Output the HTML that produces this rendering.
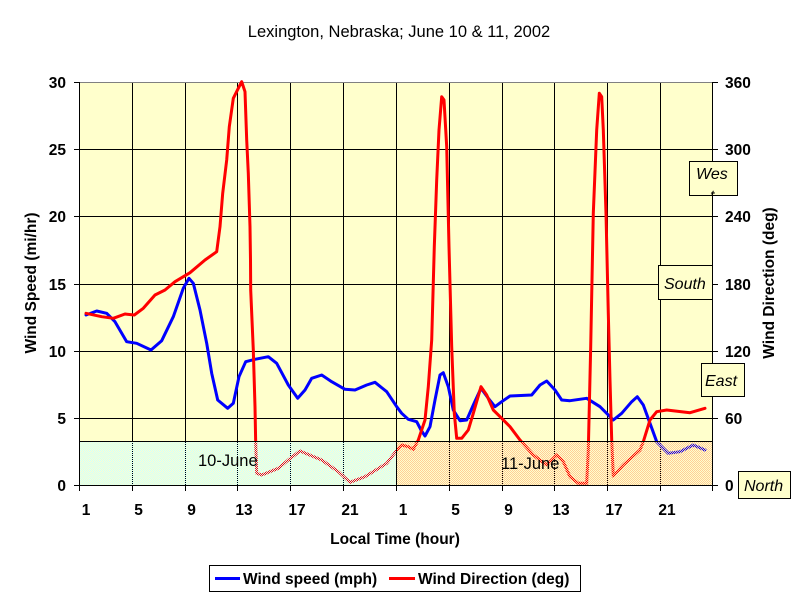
<!DOCTYPE html>
<html>
<head>
<meta charset="utf-8">
<style>
html,body{margin:0;padding:0;background:#fff;}
svg{display:block;}
text{font-family:"Liberation Sans",Arial,sans-serif;}
</style>
</head>
<body>
<svg width="800" height="600" viewBox="0 0 800 600" xmlns="http://www.w3.org/2000/svg">
<defs>
  <pattern id="cy" width="2" height="2" patternUnits="userSpaceOnUse">
    <rect x="0" y="0" width="1" height="1" fill="#ccffff"/>
    <rect x="1" y="1" width="1" height="1" fill="#ccffff"/>
  </pattern>
  <pattern id="or" width="2" height="2" patternUnits="userSpaceOnUse">
    <rect x="0" y="0" width="1" height="1" fill="#ffcc99"/>
    <rect x="1" y="1" width="1" height="1" fill="#ffcc99"/>
  </pattern>
  <clipPath id="plot"><rect x="79" y="80" width="634" height="406"/></clipPath>
  <clipPath id="wes"><rect x="690" y="162" width="48" height="34"/></clipPath>
</defs>

<!-- title -->
<text x="399" y="37" font-size="16.5" text-anchor="middle">Lexington, Nebraska; June 10 &amp; 11, 2002</text>

<!-- plot background -->
<rect x="79" y="82" width="634" height="403" fill="#ffffcc"/>

<!-- gridlines -->
<g stroke="#000" stroke-width="1" shape-rendering="crispEdges">
  <line x1="79" y1="149.5" x2="713" y2="149.5"/>
  <line x1="79" y1="216.5" x2="713" y2="216.5"/>
  <line x1="79" y1="284.5" x2="713" y2="284.5"/>
  <line x1="79" y1="351.5" x2="713" y2="351.5"/>
  <line x1="79" y1="418.5" x2="713" y2="418.5"/>
  <line x1="132.5" y1="82" x2="132.5" y2="485"/>
  <line x1="185.5" y1="82" x2="185.5" y2="485"/>
  <line x1="237.5" y1="82" x2="237.5" y2="485"/>
  <line x1="290.5" y1="82" x2="290.5" y2="485"/>
  <line x1="343.5" y1="82" x2="343.5" y2="485"/>
  <line x1="396.5" y1="82" x2="396.5" y2="485"/>
  <line x1="449.5" y1="82" x2="449.5" y2="485"/>
  <line x1="502.5" y1="82" x2="502.5" y2="485"/>
  <line x1="554.5" y1="82" x2="554.5" y2="485"/>
  <line x1="607.5" y1="82" x2="607.5" y2="485"/>
  <line x1="660.5" y1="82" x2="660.5" y2="485"/>
</g>
<line x1="79" y1="82.5" x2="713" y2="82.5" stroke="#808080" stroke-width="1" shape-rendering="crispEdges"/>

<!-- series -->
<g clip-path="url(#plot)" fill="none" stroke-width="3" stroke-linejoin="round" stroke-linecap="round">
  <polyline stroke="#0000ff" points="86,315 96.7,311 106.7,313.3 115,321.7 126.7,341.7 136.7,343.3 151,350 161.7,340.7 173.3,316.7 183.3,288.3 189,278.3 193.3,283.3 200,310 206.7,343.3 211.7,373.3 217.7,400 227.7,408.3 233.3,403.3 239,376.7 245.7,361.7 255,359.3 268.3,356.7 276.7,363.3 288.3,385 297.7,398.3 305,390 311.7,378.3 321.7,375 331.7,381.7 345,389.3 355,390 366.7,385 375,382.3 386.7,391.7 396.7,406.7 401.7,413.3 408.3,419.3 416.7,421.7 421,430 425,436 430,426.7 435,400 440,375 443.3,372.7 448.3,386.7 453.3,410 460,420.7 466.7,420 473.3,405 481,388.3 488.3,398.3 495,406.7 501.7,401.7 510,396 531.7,395 540,385 546.7,381 555,390 561.7,400 570,400.7 586.7,398.3 600,406.7 613.3,420 621.7,413.3 631.7,401.7 637.3,396.7 643.3,405 650,423.3 656.7,441.7 668.3,453.3 680,451.7 693.3,445 705,450"/>
  <polyline stroke="#ff0000" points="86,313.3 101.7,316.7 113.3,318.3 125,314 134.3,315 143.3,308.3 155,295 165,290 175,281.7 190,272.7 205,260 216.7,251.7 220,226.7 222.7,193.3 226.7,160 229.3,126.7 233.3,98.3 238.3,88.3 241.7,81.7 245,91.7 246.7,140 248.3,173.3 250,226.7 250.5,260 250.7,290 253.3,350 255,406.7 255.7,443.3 256.7,473.3 261.7,475 278.3,468.3 288.3,460 300,451 321.7,460 338.3,471.7 350,482.3 365,476.7 386.7,463.3 398.3,448.3 401.7,445 408.3,446.7 413.3,449.3 418.3,440 425,420 428.3,386.7 431.7,340 434.3,246.7 436.7,180 439,130 441.7,96.7 444,100 446.7,146.7 449,246.7 451.7,346.7 454.3,413.3 456.7,438.3 461.7,438.3 468.3,430 473.3,413.3 481,386.7 486.7,395 493.3,410 501.7,418.3 510,426.7 520,440 533.3,455 546.7,465 556.7,455 563.3,461.7 570,476.7 578.3,483.3 586.7,483.3 588.3,450 590.7,346.7 593.3,213.3 596.7,130 599.3,93.3 601.7,96.7 603.3,130 606,213.3 608.3,313.3 610,380 611.7,440 613.3,476 623.3,465 640,450 643.3,441.7 650,420 656.7,411.7 666.7,410 690,412.7 705,408.3"/>
</g>

<!-- day boxes -->
<rect x="79" y="441" width="318" height="44" fill="url(#cy)"/>
<rect x="397" y="441" width="316" height="44" fill="url(#or)"/>
<g fill="none" stroke="#000" stroke-width="1" shape-rendering="crispEdges">
  <rect x="79.5" y="441.5" width="317" height="44"/>
  <rect x="396.5" y="441.5" width="316" height="44"/>
</g>
<text x="198" y="466" font-size="16.5">10-June</text>
<text x="501" y="469" font-size="16.5">11-June</text>

<!-- axes -->
<g stroke="#000" stroke-width="1" shape-rendering="crispEdges">
  <line x1="79.5" y1="82" x2="79.5" y2="486"/>
  <line x1="712.5" y1="82" x2="712.5" y2="486"/>
  <line x1="79" y1="485.5" x2="713" y2="485.5"/>
  <!-- left ticks -->
  <line x1="74" y1="82.5" x2="79" y2="82.5"/>
  <line x1="74" y1="149.5" x2="79" y2="149.5"/>
  <line x1="74" y1="216.5" x2="79" y2="216.5"/>
  <line x1="74" y1="284.5" x2="79" y2="284.5"/>
  <line x1="74" y1="351.5" x2="79" y2="351.5"/>
  <line x1="74" y1="418.5" x2="79" y2="418.5"/>
  <line x1="74" y1="485.5" x2="79" y2="485.5"/>
  <!-- right ticks -->
  <line x1="713" y1="82.5" x2="718" y2="82.5"/>
  <line x1="713" y1="149.5" x2="718" y2="149.5"/>
  <line x1="713" y1="216.5" x2="718" y2="216.5"/>
  <line x1="713" y1="284.5" x2="718" y2="284.5"/>
  <line x1="713" y1="351.5" x2="718" y2="351.5"/>
  <line x1="713" y1="418.5" x2="718" y2="418.5"/>
  <line x1="713" y1="485.5" x2="718" y2="485.5"/>
  <!-- bottom ticks -->
  <line x1="79.5" y1="485" x2="79.5" y2="491"/>
  <line x1="132.5" y1="485" x2="132.5" y2="491"/>
  <line x1="185.5" y1="485" x2="185.5" y2="491"/>
  <line x1="237.5" y1="485" x2="237.5" y2="491"/>
  <line x1="290.5" y1="485" x2="290.5" y2="491"/>
  <line x1="343.5" y1="485" x2="343.5" y2="491"/>
  <line x1="396.5" y1="485" x2="396.5" y2="491"/>
  <line x1="449.5" y1="485" x2="449.5" y2="491"/>
  <line x1="502.5" y1="485" x2="502.5" y2="491"/>
  <line x1="554.5" y1="485" x2="554.5" y2="491"/>
  <line x1="607.5" y1="485" x2="607.5" y2="491"/>
  <line x1="660.5" y1="485" x2="660.5" y2="491"/>
  <line x1="712.5" y1="485" x2="712.5" y2="491"/>
</g>

<!-- left tick labels -->
<g font-size="15.5" font-weight="bold" text-anchor="end">
  <text x="66" y="88">30</text>
  <text x="66" y="155">25</text>
  <text x="66" y="222">20</text>
  <text x="66" y="290">15</text>
  <text x="66" y="357">10</text>
  <text x="66" y="424">5</text>
  <text x="66" y="491">0</text>
</g>
<!-- right tick labels -->
<g font-size="15.5" font-weight="bold">
  <text x="725" y="88">360</text>
  <text x="725" y="155">300</text>
  <text x="725" y="222">240</text>
  <text x="725" y="290">180</text>
  <text x="725" y="357">120</text>
  <text x="725" y="424">60</text>
  <text x="725" y="491">0</text>
</g>
<!-- bottom tick labels -->
<g font-size="15.5" font-weight="bold" text-anchor="middle">
  <text x="86" y="515">1</text>
  <text x="138.5" y="515">5</text>
  <text x="191.5" y="515">9</text>
  <text x="244" y="515">13</text>
  <text x="297" y="515">17</text>
  <text x="350" y="515">21</text>
  <text x="403" y="515">1</text>
  <text x="455.5" y="515">5</text>
  <text x="508.5" y="515">9</text>
  <text x="561" y="515">13</text>
  <text x="614" y="515">17</text>
  <text x="667" y="515">21</text>
</g>

<!-- axis titles -->
<text x="395" y="544" font-size="15.5" font-weight="bold" text-anchor="middle">Local Time (hour)</text>
<text transform="translate(36,283) rotate(-90)" font-size="15.5" font-weight="bold" text-anchor="middle">Wind Speed (mi/hr)</text>
<text transform="translate(774,283) rotate(-90)" font-size="15.5" font-weight="bold" text-anchor="middle">Wind Direction (deg)</text>

<!-- direction annotation boxes -->
<g fill="#ffffcc" stroke="#000" stroke-width="1" shape-rendering="crispEdges">
  <rect x="689.5" y="161.5" width="48" height="34"/>
  <rect x="658.5" y="265.5" width="54" height="34"/>
  <rect x="701.5" y="363.5" width="43" height="33"/>
  <rect x="738.5" y="471.5" width="52" height="27"/>
</g>
<g font-size="16" font-style="italic">
  <text x="696" y="179">Wes</text>
  <text x="710" y="201" clip-path="url(#wes)">t</text>
  <text x="664" y="289">South</text>
  <text x="705" y="386">East</text>
  <text x="744" y="491">North</text>
</g>

<!-- legend -->
<rect x="209.5" y="565.5" width="371" height="26" fill="#fff" stroke="#000" stroke-width="1" shape-rendering="crispEdges"/>
<line x1="215" y1="578.5" x2="240" y2="578.5" stroke="#0000ff" stroke-width="3"/>
<text x="243" y="584" font-size="15.5" font-weight="bold">Wind speed (mph)</text>
<line x1="389" y1="578.5" x2="415" y2="578.5" stroke="#ff0000" stroke-width="3"/>
<text x="418" y="584" font-size="15.5" font-weight="bold">Wind Direction (deg)</text>
</svg>
</body>
</html>
